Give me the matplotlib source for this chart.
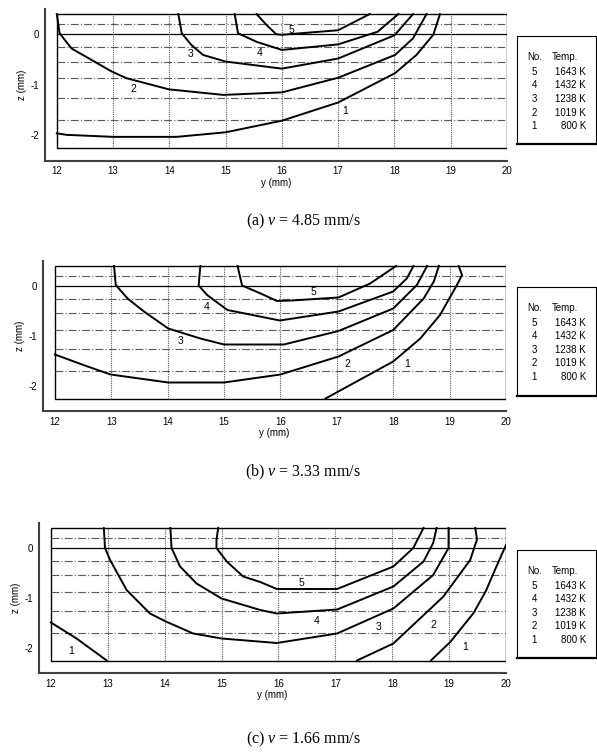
import matplotlib
matplotlib.use("Agg")
import matplotlib.pyplot as plt
from matplotlib.patches import Rectangle

plt.rcParams['font.family'] = ['Liberation Sans', 'DejaVu Sans']
plt.rcParams['axes.unicode_minus'] = False
plt.rcParams['mathtext.fontset'] = 'custom'
plt.rcParams['mathtext.rm'] = 'Liberation Serif'
plt.rcParams['mathtext.it'] = 'Liberation Serif:italic'

W, H = 597, 754

y_ticks = [12, 13, 14, 15, 16, 17, 18, 19, 20]
z_ticks = [0, -1, -2]
z_mesh = [0.2, 0.0, -0.25, -0.54, -0.87, -1.26, -1.7]
levels = [5, 4, 3, 2, 1]
temps = ["1643 K", "1432 K", "1238 K", "1019 K", "800 K"]
captions = ["(a)", "(b)", "(c)"]
speeds = ["4.85", "3.33", "1.66"]

# (a) v = 4.85 mm/s
a1_y = [12.0, 12.17, 13.0, 14.13, 15.0, 16.0, 17.0, 18.01, 18.39, 18.69, 18.81]
a1_z = [-1.96, -1.99, -2.03, -2.03, -1.94, -1.71, -1.35, -0.77, -0.41, -0.01, 0.4]
a2_y = [12.0, 12.05, 12.26, 12.98, 13.24, 13.99, 14.96, 16.0, 17.0, 18.01, 18.33, 18.57]
a2_z = [0.4, 0.02, -0.28, -0.74, -0.87, -1.09, -1.2, -1.15, -0.86, -0.41, -0.08, 0.4]
a3_y = [14.16, 14.22, 14.39, 14.6, 15.0, 16.0, 17.0, 18.0, 18.33]
a3_z = [0.4, 0.02, -0.21, -0.41, -0.54, -0.68, -0.48, -0.02, 0.4]
a4_y = [15.16, 15.22, 15.55, 16.0, 17.0, 17.7, 18.07]
a4_z = [0.4, 0.02, -0.15, -0.31, -0.2, 0.05, 0.4]
a5_y = [15.55, 15.73, 15.9, 16.0, 17.0, 17.56]
a5_z = [0.4, 0.18, 0.0, -0.01, 0.08, 0.4]
a_lab_y = [16.17, 15.61, 14.38, 13.36, 17.12]
a_lab_z = [0.09, -0.38, -0.4, -1.09, -1.52]

# (b) v = 3.33 mm/s
b1_y = [16.8, 18.0, 18.48, 18.83, 19.13, 19.22, 19.16]
b1_z = [-2.25, -1.51, -1.05, -0.58, 0.02, 0.22, 0.4]
b2_y = [12.0, 12.58, 12.99, 14.01, 15.0, 16.0, 17.03, 18.0, 18.54, 18.72, 18.81]
b2_z = [-1.37, -1.61, -1.77, -1.93, -1.93, -1.77, -1.41, -0.88, -0.25, 0.09, 0.4]
b3_y = [13.05, 13.08, 13.29, 13.58, 14.01, 14.58, 15.0, 16.06, 17.03, 18.0, 18.42, 18.6]
b3_z = [0.4, 0.02, -0.25, -0.51, -0.85, -1.05, -1.17, -1.17, -0.9, -0.45, 0.02, 0.4]
b4_y = [14.58, 14.55, 14.7, 15.06, 15.99, 17.03, 18.0, 18.24, 18.36]
b4_z = [0.4, 0.01, -0.18, -0.48, -0.69, -0.51, -0.11, 0.15, 0.4]
b5_y = [15.24, 15.32, 15.65, 15.94, 16.2, 17.03, 17.59, 18.05]
b5_z = [0.4, 0.01, -0.15, -0.3, -0.29, -0.23, 0.05, 0.4]
b_lab_y = [16.59, 14.7, 14.23, 17.18, 18.24]
b_lab_z = [-0.11, -0.41, -1.09, -1.55, -1.55]

# (c) v = 1.66 mm/s
c1_y = [18.68, 19.02, 19.43, 19.65, 19.82, 20.0]
c1_z = [-2.25, -1.88, -1.3, -0.85, -0.4, 0.06]
c1b_y = [12.0, 12.45, 12.98]
c1b_z = [-1.49, -1.81, -2.25]
c2_y = [17.38, 18.02, 18.9, 19.37, 19.49, 19.46]
c2_z = [-2.25, -1.91, -0.97, -0.24, 0.17, 0.4]
c3_y = [12.93, 12.95, 13.04, 13.33, 13.74, 14.02, 14.5, 15.0, 15.97, 17.03, 18.02, 18.72, 18.99, 18.99]
c3_z = [0.4, 0.0, -0.24, -0.84, -1.31, -1.47, -1.71, -1.81, -1.9, -1.71, -1.21, -0.54, 0.0, 0.4]
c4_y = [14.1, 14.12, 14.27, 14.56, 15.0, 15.68, 15.97, 17.03, 18.02, 18.55, 18.72, 18.78]
c4_z = [0.4, 0.0, -0.37, -0.71, -1.01, -1.24, -1.31, -1.23, -0.77, -0.27, 0.1, 0.4]
c5_y = [14.94, 14.91, 14.91, 15.09, 15.38, 15.68, 15.97, 17.03, 18.02, 18.37, 18.55]
c5_z = [0.4, 0.16, 0.0, -0.27, -0.57, -0.68, -0.82, -0.82, -0.37, 0.0, 0.4]
c_lab_y = [16.41, 16.67, 17.76, 18.73, 19.28, 12.36]
c_lab_z = [-0.71, -1.46, -1.57, -1.54, -1.97, -2.07]
c_lab_t = [5, 4, 3, 2, 1, 1]

panels = [
    [(a1_y, a1_z), (a2_y, a2_z), (a3_y, a3_z), (a4_y, a4_z), (a5_y, a5_z)],
    [(b1_y, b1_z), (b2_y, b2_z), (b3_y, b3_z), (b4_y, b4_z), (b5_y, b5_z)],
    [(c1_y, c1_z), (c1b_y, c1b_z), (c2_y, c2_z), (c3_y, c3_z), (c4_y, c4_z), (c5_y, c5_z)],
]
labels = [
    (a_lab_y, a_lab_z, [5, 4, 3, 2, 1]),
    (b_lab_y, b_lab_z, [5, 4, 3, 2, 1]),
    (c_lab_y, c_lab_z, c_lab_t),
]

# pixel boxes: left, top, right, bottom
ax_px = [(45, 9, 507, 160.6), (43, 261, 506, 411), (39, 523, 506, 673)]
leg_px = [(517, 36, 596, 144), (517, 287, 596, 396), (517, 550, 596, 658)]
cap_px = [221, 472, 739]


def frac(box):
    l, t, r, b = box
    return [l / W, 1 - b / H, (r - l) / W, (b - t) / H]


fig = plt.figure(figsize=(W / 100, H / 100), dpi=100)

for k in range(3):
    ax = fig.add_axes(frac(ax_px[k]))
    ax.set_xlim(11.79, 20.0)
    ax.set_ylim(-2.5, 0.5)
    for s in ["top", "right"]:
        ax.spines[s].set_visible(False)
    for s in ["left", "bottom"]:
        ax.spines[s].set_linewidth(1.5)
        ax.spines[s].set_color("0.25")
    ax.set_xticks(y_ticks)
    ax.set_yticks(z_ticks)
    ax.tick_params(length=0, labelsize=7, pad=4)
    ax.set_xlabel("y (mm)", fontsize=7, labelpad=1)
    ax.set_ylabel("z (mm)", fontsize=7, labelpad=3)

    # mesh lines
    for z in z_mesh:
        if z == 0:
            ax.plot([12, 20], [z, z], color="black", lw=0.9)
        else:
            ax.plot([12, 20], [z, z], color="0.35", lw=0.8, ls=(0, (7, 2, 1, 2)))
    for y in y_ticks[1:-1]:
        ax.plot([y, y], [-2.25, 0.4], color="0.35", lw=0.8, ls=(0, (1, 1)))
    ax.add_patch(Rectangle((12, -2.25), 8, 2.65, fill=False, ec="black", lw=1.0))

    for ys, zs in panels[k]:
        ax.plot(ys, zs, color="black", lw=1.4)
    ly, lz, lt = labels[k]
    for y, z, t in zip(ly, lz, lt):
        ax.text(y, z, str(t), fontsize=7.5, ha="center", va="center")

    fig.text(303 / W, 1 - cap_px[k] / H, captions[k] + r" $v$ = " + speeds[k] + " mm/s",
             family="Liberation Serif", fontsize=11.5, ha="center", va="center")

    # legend box
    lax = fig.add_axes(frac(leg_px[k]))
    lax.set_xticks([])
    lax.set_yticks([])
    for s in lax.spines.values():
        s.set_linewidth(0.8)
    lax.spines["bottom"].set_linewidth(1.6)
    l, t, r, b = leg_px[k]
    lax.set_xlim(l, r)
    lax.set_ylim(b, t)
    lax.text(527, t + 21, "No.", fontsize=7, ha="left", va="center")
    lax.text(552, t + 21, "Temp.", fontsize=7, ha="left", va="center")
    for i, (n, tp) in enumerate(zip(levels, temps)):
        yy = t + 36 + i * 13.5
        lax.text(537, yy, str(n), fontsize=7, ha="right", va="center")
        lax.text(586, yy, tp, fontsize=7, ha="right", va="center")

fig.savefig("out.png", dpi=100)
